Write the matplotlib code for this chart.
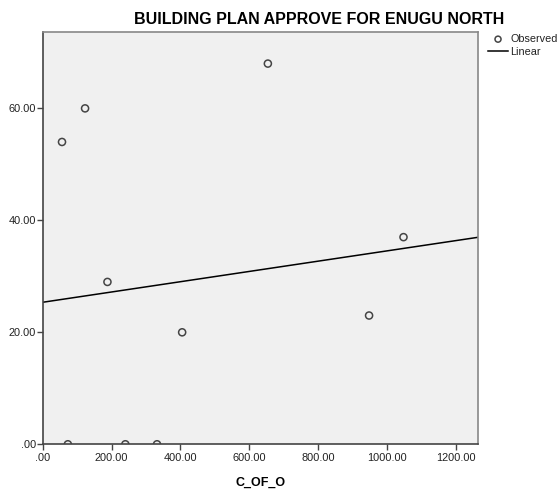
import numpy as np
import matplotlib
matplotlib.use("Agg")
import matplotlib.pyplot as plt
from matplotlib.ticker import FuncFormatter

plt.rcParams["font.family"] = ["Liberation Sans", "DejaVu Sans"]

c_of_o = [56, 123, 188, 405, 654, 948, 1048, 73, 240, 332]
approved = [54, 60, 29, 20, 68, 23, 37, 0, 0, 0]
x_ticks = [0, 200, 400, 600, 800, 1000, 1200]
y_ticks = [0, 20, 40, 60]


def spss_fmt(v, pos=None):
    s = f"{v:.2f}"
    if s.startswith("0."):
        s = s[1:]
    return s


fig = plt.figure(figsize=(5.6, 4.92), dpi=100)
ax = fig.add_axes([0.0763, 0.0970, 0.7764, 0.8386])
ax.set_facecolor("#f0f0f0")

ax.scatter(c_of_o, approved, s=26, facecolors="none", edgecolors="#444444",
           linewidths=1.1, label="Observed", zorder=3)

slope, intercept = np.polyfit(c_of_o, approved, 1)
xlim = (0, 1263)
xs = np.array(xlim)
ax.plot(xs, intercept + slope * xs, color="black", linewidth=1.1, label="Linear", zorder=2)

ax.set_xlim(*xlim)
ax.set_ylim(0, 73.7)
ax.set_xticks(x_ticks)
ax.set_yticks(y_ticks)
ax.xaxis.set_major_formatter(FuncFormatter(spss_fmt))
ax.yaxis.set_major_formatter(FuncFormatter(spss_fmt))
ax.tick_params(axis="both", labelsize=7.9, labelcolor="#222222", color="#444444",
               length=4, width=1)
ax.tick_params(axis="x", pad=2)
ax.tick_params(axis="y", pad=1)

for side in ["left", "bottom"]:
    ax.spines[side].set_color("#444444")
    ax.spines[side].set_linewidth(1.2)
for side in ["top", "right"]:
    ax.spines[side].set_color("#888888")
    ax.spines[side].set_linewidth(1.2)

ax.set_xlabel("C_OF_O", fontsize=9, fontweight="bold", labelpad=10)

fig.text(0.57, 1 - 24 / 492, "BUILDING PLAN APPROVE FOR ENUGU NORTH",
         ha="center", va="baseline", fontsize=11.5, fontweight="bold")

fig.legend(loc="upper left", bbox_to_anchor=(488 / 560, 1 - 34 / 492),
           frameon=False, fontsize=7.8, handlelength=1.85, handletextpad=0.2,
           labelspacing=0.3, borderpad=0, borderaxespad=0, labelcolor="#222222",
           markerscale=0.85)

fig.savefig("out.png", dpi=100)
